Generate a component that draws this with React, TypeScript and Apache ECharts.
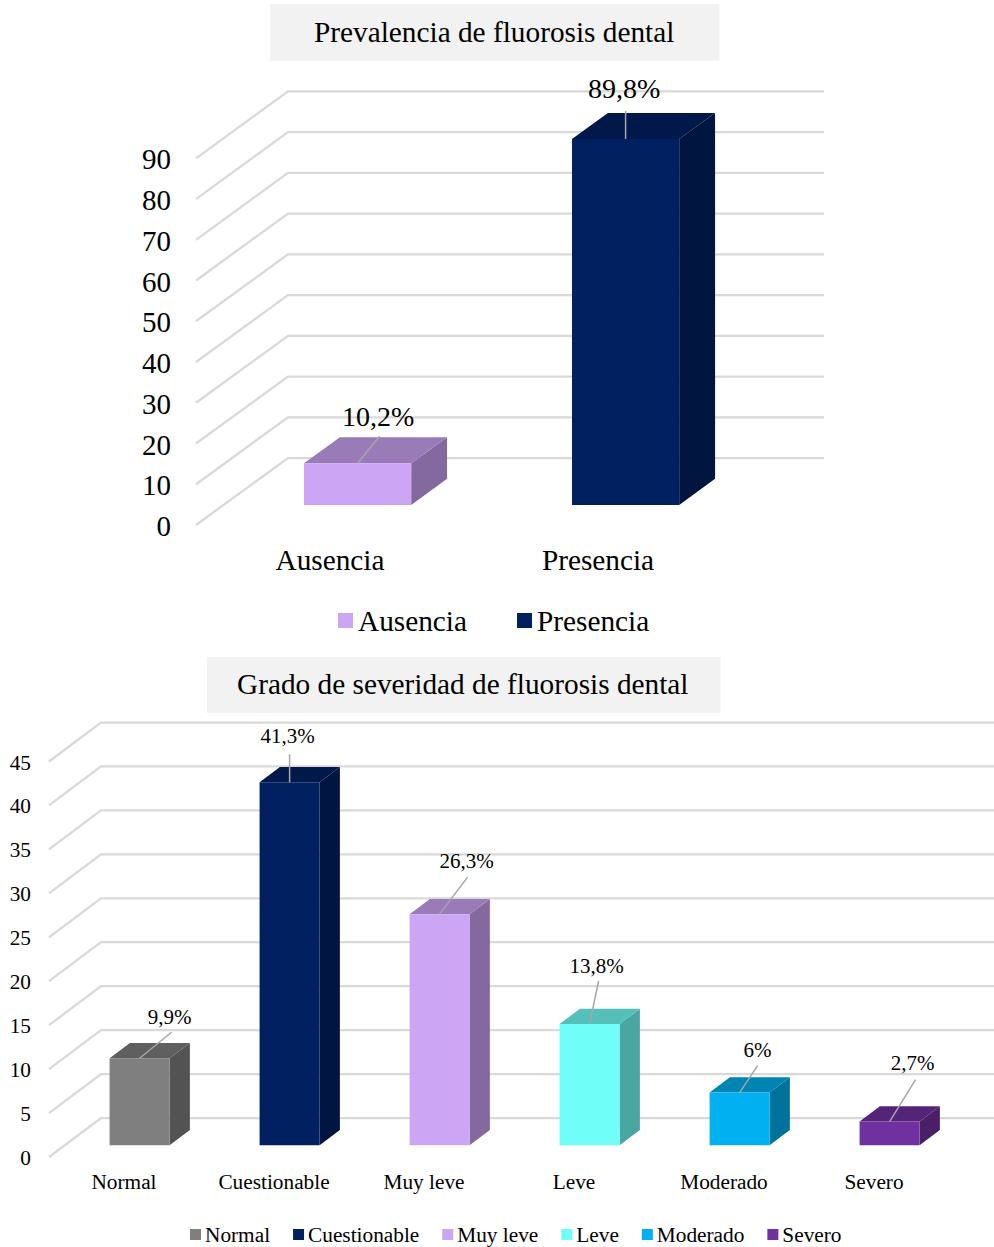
import React, { useEffect, useRef } from "react";
import * as echarts from "echarts";

const FONT = "'Liberation Serif', 'Times New Roman', serif";

// Prevalence chart
const prevalenceCategories = ["Ausencia", "Presencia"];
const prevalenceValues = [10.2, 89.8];
const prevalenceLabels = ["10,2%", "89,8%"];
const prevalenceTicks = [0, 10, 20, 30, 40, 50, 60, 70, 80, 90];

// Severity chart
const severityCategories = ["Normal", "Cuestionable", "Muy leve", "Leve", "Moderado", "Severo"];
const severityValues = [9.9, 41.3, 26.3, 13.8, 6, 2.7];
const severityLabels = ["9,9%", "41,3%", "26,3%", "13,8%", "6%", "2,7%"];
const severityTicks = [0, 5, 10, 15, 20, 25, 30, 35, 40, 45];

// [front, top, side] face colours per bar
const prevalenceFaces = [
  ["#CCA6F5", "#997BB8", "#84699F"],
  ["#002060", "#00184A", "#00153F"],
];
const severityFaces = [
  ["#7F7F7F", "#5F5F5F", "#535353"],
  ["#002060", "#00184A", "#00153F"],
  ["#CCA6F5", "#997BB8", "#84699F"],
  ["#70FFF8", "#55BFBA", "#49A6A1"],
  ["#00B0F0", "#0084B4", "#00729C"],
  ["#7030A0", "#542478", "#491F68"],
];

// Leader-line ends and label centres, relative to the middle of each bar's top front edge
const prevalenceLeaders = [[22, -27], [0, -28]];
const prevalenceLabelOffsets = [[20.5, -47], [-1.5, -51]];
const severityLeaders = [[32, -26], [0, -28], [28, -37], [9, -43], [18, -27], [26, -42]];
const severityLabelOffsets = [[30, -41], [-2, -46], [27, -53], [7, -58], [18, -43], [23, -59]];

const GRID_COLOR = "#D9D9D9";
const LEADER_COLOR = "#A6A6A6";

// The value-axis grid is the front edge of the floor; each wall line runs back
// from there by the depth vector, then across the back wall.
function wallRenderer(depth: number[]) {
  return (params: any, api: any) => {
    const sys = params.coordSys;
    const y = api.coord([0, api.value(1)])[1];
    return {
      type: "polyline",
      shape: {
        points: [
          [sys.x, y],
          [sys.x + depth[0], y + depth[1]],
          [sys.x + sys.width + depth[0], y + depth[1]],
        ],
      },
      style: { stroke: GRID_COLOR, lineWidth: 2.25, fill: "none" },
      silent: true,
    };
  };
}

// A box standing on the floor, 30% of the way back and 39% deep.
function barRenderer(
  depth: number[],
  faces: string[],
  leader: number[],
  labelOffset: number[],
  label: string,
  fontSize: number
) {
  return (_params: any, api: any) => {
    const top = api.coord([api.value(0), api.value(1)]);
    const base = api.coord([api.value(0), 0]);
    const width = api.size([1, 0])[0] * 0.4;
    const sx = depth[0] * 0.3;
    const sy = depth[1] * 0.3;
    const dx = depth[0] * 0.39;
    const dy = depth[1] * 0.39;
    const x0 = top[0] + sx - width / 2;
    const x1 = x0 + width;
    const yt = top[1] + sy;
    const yb = base[1] + sy;
    const mid = (x0 + x1) / 2;
    return {
      type: "group",
      children: [
        { type: "polygon", shape: { points: [[x1, yt], [x1 + dx, yt + dy], [x1 + dx, yb + dy], [x1, yb]] }, style: { fill: faces[2] } },
        { type: "polygon", shape: { points: [[x0, yt], [x0 + dx, yt + dy], [x1 + dx, yt + dy], [x1, yt]] }, style: { fill: faces[1] } },
        { type: "rect", shape: { x: x0, y: yt, width, height: yb - yt }, style: { fill: faces[0] } },
        { type: "line", shape: { x1: mid, y1: yt, x2: mid + leader[0], y2: yt + leader[1] }, style: { stroke: LEADER_COLOR, lineWidth: 1.5 } },
        {
          type: "text",
          x: mid + labelOffset[0],
          y: yt + labelOffset[1],
          style: {
            text: label,
            fill: "#000000",
            font: `${fontSize}px ${FONT}`,
            align: "center",
            verticalAlign: "middle",
          },
        },
      ],
    };
  };
}

function wallSeries(ticks: number[], depth: number[], axisIndex: number) {
  return {
    type: "custom",
    name: `wall${axisIndex}`,
    xAxisIndex: axisIndex,
    yAxisIndex: axisIndex,
    silent: true,
    renderItem: wallRenderer(depth),
    data: ticks.map((t) => [0, t]),
    encode: { x: 0, y: 1 },
  };
}

function barSeries(
  categories: string[],
  values: number[],
  labels: string[],
  faces: string[][],
  leaders: number[][],
  labelOffsets: number[][],
  depth: number[],
  fontSize: number,
  axisIndex: number
) {
  return categories.map((name, i) => ({
    type: "custom",
    name,
    xAxisIndex: axisIndex,
    yAxisIndex: axisIndex,
    itemStyle: { color: faces[i][0] },
    renderItem: barRenderer(depth, faces[i], leaders[i], labelOffsets[i], labels[i], fontSize),
    data: [[i, values[i]]],
    encode: { x: 0, y: 1 },
  }));
}

const DEPTH_TOP = [92, -67];
const DEPTH_BOTTOM = [52, -39];

const axisText = (size: number, margin: number) => ({
  color: "#000000",
  fontFamily: FONT,
  fontSize: size,
  margin,
});

// Value labels sit slightly under their tick: top-aligned in a short line box.
const valueText = (size: number, margin: number, drop: number) => ({
  ...axisText(size, margin),
  verticalAlign: "top",
  lineHeight: drop * 2,
});

export default function App() {
  const ref = useRef<HTMLDivElement>(null);

  useEffect(() => {
    const chart = echarts.init(ref.current!, undefined, { renderer: "svg" });
    chart.setOption({
      animation: false,
      backgroundColor: "#FFFFFF",
      title: [
        {
          text: "Prevalencia de fluorosis dental",
          left: 270,
          top: 4,
          padding: [13, 45, 15, 44],
          backgroundColor: "#F2F2F2",
          textStyle: { color: "#000000", fontFamily: FONT, fontSize: 29.3, fontWeight: "normal" },
        },
        {
          text: "Grado de severidad de fluorosis dental",
          left: 207,
          top: 657,
          padding: [12, 32, 15, 30],
          backgroundColor: "#F2F2F2",
          textStyle: { color: "#000000", fontFamily: FONT, fontSize: 29.3, fontWeight: "normal" },
        },
      ],
      legend: [
        {
          data: prevalenceCategories,
          left: 338,
          top: 606,
          padding: 0,
          icon: "rect",
          itemWidth: 15,
          itemHeight: 15,
          itemGap: 50,
          selectedMode: false,
          textStyle: { color: "#000000", fontFamily: FONT, fontSize: 29.3, padding: [0, 0, 0, 0] },
        },
        {
          data: severityCategories,
          left: 190,
          top: 1224,
          padding: 0,
          icon: "rect",
          itemWidth: 11,
          itemHeight: 11,
          itemGap: 23,
          selectedMode: false,
          textStyle: { color: "#000000", fontFamily: FONT, fontSize: 21.3, padding: [0, 0, 0, -1] },
        },
      ],
      grid: [
        { left: 196, top: 158.3, width: 536, height: 366.7 },
        { left: 49, top: 761.5, width: 900, height: 395.5 },
      ],
      xAxis: [
        {
          type: "category",
          gridIndex: 0,
          data: prevalenceCategories,
          axisLine: { show: false },
          axisTick: { show: false },
          axisLabel: axisText(29.3, 20),
        },
        {
          type: "category",
          gridIndex: 1,
          data: severityCategories,
          axisLine: { show: false },
          axisTick: { show: false },
          axisLabel: axisText(21.3, 14),
        },
      ],
      yAxis: [
        {
          type: "value",
          gridIndex: 0,
          min: 0,
          max: 90,
          interval: 10,
          splitLine: { show: false },
          axisLine: { show: false },
          axisTick: { show: false },
          axisLabel: valueText(29, 25, 1),
        },
        {
          type: "value",
          gridIndex: 1,
          min: 0,
          max: 45,
          interval: 5,
          splitLine: { show: false },
          axisLine: { show: false },
          axisTick: { show: false },
          axisLabel: valueText(21.3, 18, 1),
        },
      ],
      series: [
        wallSeries(prevalenceTicks, DEPTH_TOP, 0),
        wallSeries(severityTicks, DEPTH_BOTTOM, 1),
        ...barSeries(prevalenceCategories, prevalenceValues, prevalenceLabels, prevalenceFaces, prevalenceLeaders, prevalenceLabelOffsets, DEPTH_TOP, 28, 0),
        ...barSeries(severityCategories, severityValues, severityLabels, severityFaces, severityLeaders, severityLabelOffsets, DEPTH_BOTTOM, 21, 1),
      ],
    });
    return () => chart.dispose();
  }, []);

  return (
    <div
      ref={ref}
      style={{ position: "fixed", left: 0, top: 0, width: 994, height: 1247 }}
    />
  );
}
